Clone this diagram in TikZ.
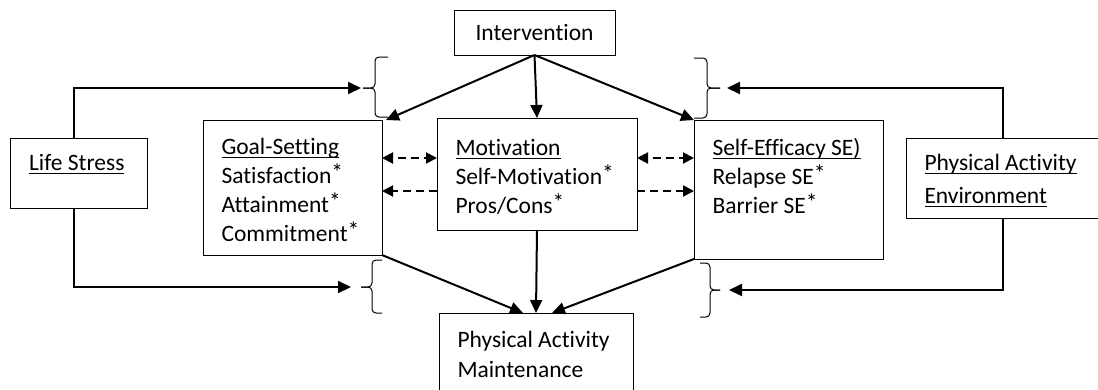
\documentclass[tikz,border=0pt]{standalone}
\usepackage{fontspec}
\setmainfont{Carlito}[Ligatures={NoCommon}]
\usetikzlibrary{arrows.meta}
% underline at a fixed depth
\newsavebox{\ulbox}
\newcommand{\uln}[1]{\leavevmode\sbox{\ulbox}{#1}\rlap{\rule[-3.8pt]{\wd\ulbox}{1.3pt}}\usebox{\ulbox}}
\newcommand{\st}{\raisebox{2.5pt}{*}}
% text block in a box: width, height, first baseline, lines
\newcommand{\boxlines}[4]{\parbox[t][#2][t]{#1}{\raggedright\leftskip=18.5pt\rule{0pt}{#3}#4}}
\tikzset{box/.style={draw, line width=1pt, inner sep=0pt, outer sep=0pt,
    anchor=north west, font=\fontsize{23.5}{29}\selectfont}}
\tikzset{arrowsb/.style={line width=2pt, -{Triangle[length=13pt,width=12pt]}}}
\tikzset{dashb/.style={line width=2pt, dash pattern=on 8pt off 5pt,
    -{Triangle[length=11pt,width=11pt]}}}
\tikzset{dashbb/.style={line width=2pt, dash pattern=on 8pt off 5pt, dash phase=-5pt,
    {Triangle[length=11pt,width=11pt]}-{Triangle[length=11pt,width=11pt]}}}
\tikzset{bracket/.style={line width=1pt, rounded corners=4pt}}

\begin{document}
\begin{tikzpicture}[x=1pt,y=-1pt]
  \useasboundingbox (0,0) rectangle (1098,389);

  \node[box, anchor=center, minimum width=161pt, minimum height=45pt] (int) at (534.5,32.5) {Intervention};
  \node[box] (ls) at (10.5,138) {\boxlines{136.5pt}{70pt}{32pt}{\uln{Life Stress}}};
  \node[box] (gs) at (203,120) {\boxlines{179pt}{135pt}{34pt}{\uln{Goal-Setting}\\Satisfaction\st\\Attainment\st\\Commitment\st}};
  \node[box] (mot) at (437,118) {\boxlines{200pt}{112pt}{37pt}{\uln{Motivation}\\Self-Motivation\st\\Pros/Cons\st}};
  \node[box] (se) at (694,120) {\boxlines{189pt}{139pt}{35pt}{\uln{Self-Efficacy SE)}\\Relapse SE\st\\Barrier SE\st}};
  \node[box] (env) at (906,138) {\boxlines{194pt}{80pt}{32pt}{\uln{Physical Activity}\\[4pt]\uln{Environment}}};
  \node[box] (pam) at (439,313) {\boxlines{194pt}{80pt}{34pt}{Physical Activity\\[1pt]Maintenance}};

  % brackets
  \draw[bracket] (388,57) -- (375,57) -- (375,88) -- (363,88);
  \draw[bracket] (388,117) -- (375,117) -- (375,88) -- (363,88);
  \draw[bracket] (694,58) -- (707,58) -- (707,88) -- (720,88);
  \draw[bracket] (694,118) -- (707,118) -- (707,88) -- (720,88);
  \draw[bracket] (382,260) -- (372,260) -- (372,287) -- (361,287);
  \draw[bracket] (382,313) -- (372,313) -- (372,287) -- (361,287);
  \draw[bracket] (700,263) -- (710,263) -- (710,290) -- (720,290);
  \draw[bracket] (700,317) -- (710,317) -- (710,290) -- (720,290);

  \coordinate (lsup) at (361,88);
  \coordinate (lsdown) at (351,287);
  \coordinate (envup) at (727,88);
  \coordinate (envdown) at (729,290);
  \coordinate (rowa) at (0,158);
  \coordinate (rowb) at (0,191);

  \draw[arrowsb] ([xshift=-5pt]ls.north) |- (lsup);
  \draw[arrowsb] ([xshift=-5pt]ls.south) |- (lsdown);
  \draw[arrowsb] (env.north) |- (envup);
  \draw[arrowsb] (env.south) |- (envdown);

  \draw[arrowsb] (int.south) -- ([xshift=4pt]gs.north east);
  \draw[arrowsb] (int.south) -- (mot.north);
  \draw[arrowsb] (int.south) -- (se.north west);

  \draw[arrowsb] (gs.south east) -- ([xshift=-13pt]pam.north);
  \draw[arrowsb] (mot.south) -- (pam.north);
  \draw[arrowsb] (se.south west) -- ([xshift=16pt]pam.north);

  \draw[dashbb] (gs.east |- rowa) -- (mot.west |- rowa);
  \draw[dashb] (mot.west |- rowb) -- (gs.east |- rowb);
  \draw[dashbb] (mot.east |- rowa) -- (se.west |- rowa);
  \draw[dashb] (mot.east |- rowb) -- (se.west |- rowb);
\end{tikzpicture}
\end{document}
